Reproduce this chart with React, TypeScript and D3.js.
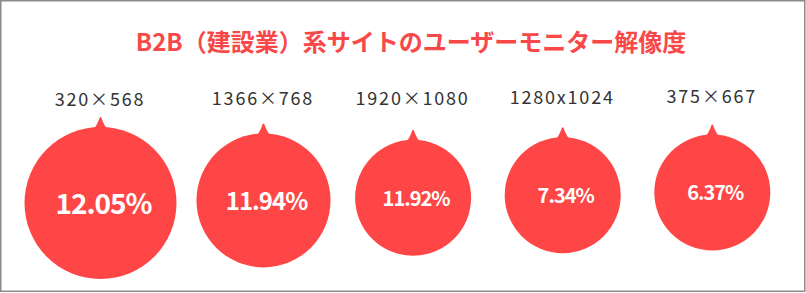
import React, { useEffect, useRef } from "react";
import * as d3 from "d3";

const title = "B2B（建設業）系サイトのユーザーモニター解像度";
const categories = ["320×568", "1366×768", "1920×1080", "1280x1024", "375×667"];
const shares = [12.05, 11.94, 11.92, 7.34, 6.37];

const W = 806;
const H = 293;
const RED = "#ff4646";

export default function App() {
  const ref = useRef<SVGSVGElement | null>(null);

  useEffect(() => {
    document.body.style.margin = "0";
    const svg = d3.select(ref.current);
    svg.selectAll("*").remove();

    svg
      .append("rect")
      .attr("x", 0.75)
      .attr("y", 0.75)
      .attr("width", 804)
      .attr("height", 290.5)
      .attr("fill", "#fff")
      .attr("stroke", "#8a8a8a")
      .attr("stroke-width", 1.5);

    svg
      .append("text")
      .attr("x", 411)
      .attr("y", 51)
      .attr("text-anchor", "middle")
      .attr("font-family", "'Noto Sans CJK JP', sans-serif")
      .attr("font-weight", 700)
      .attr("font-size", 24)
      .attr("fill", "#f84848")
      .text(title);

    const idx = d3.range(categories.length);
    const x = d3.scaleLinear().domain([0, 1, 4]).range([100.5, 263.5, 712.3]);
    const cy = d3.scaleLinear().domain([0, 4]).range([203, 192.5]);
    const labelY = d3.scaleLinear().domain([0, 4]).range([106, 103]);
    const r = d3
      .scaleLinear()
      .domain([11.92, 11.94, 12.05])
      .range([58, 67, 76])
      .clamp(true);
    const fs = d3.scaleLinear().domain([58, 76]).range([20, 28]);

    const g = svg
      .selectAll("g.item")
      .data(idx)
      .enter()
      .append("g")
      .attr("class", "item");

    g.append("text")
      .attr("x", (i) => x(i) - 0.5)
      .attr("y", (i) => labelY(i))
      .attr("text-anchor", "middle")
      .attr("font-family", "'Noto Sans CJK JP', sans-serif")
      .attr("font-size", 18)
      .attr("letter-spacing", 1.8)
      .attr("fill", "#333")
      .text((i) => categories[i]);

    g.append("path")
      .attr("fill", RED)
      .attr("d", (i) => {
        const cx = x(i);
        const top = cy(i) - r(shares[i]);
        const p = d3.path();
        p.moveTo(cx - 9, top + 5);
        p.quadraticCurveTo(cx - 3, top - 2, cx - 0.8, top - 9.5);
        p.quadraticCurveTo(cx, top - 10.5, cx + 0.8, top - 9.5);
        p.quadraticCurveTo(cx + 3, top - 2, cx + 9, top + 5);
        p.closePath();
        return p.toString();
      });

    g.append("circle")
      .attr("cx", (i) => x(i))
      .attr("cy", (i) => cy(i))
      .attr("r", (i) => r(shares[i]))
      .attr("fill", RED);

    g.append("text")
      .attr("x", (i) => x(i) + 3)
      .attr("y", (i) => cy(i) + fs(r(shares[i])) * 0.37 + 0.5)
      .attr("text-anchor", "middle")
      .attr("font-family", "'Noto Sans CJK JP', sans-serif")
      .attr("font-weight", 700)
      .attr("font-size", (i) => fs(r(shares[i])))
      .attr("letter-spacing", -1)
      .attr("fill", "#fff")
      .text((i) => `${shares[i].toFixed(2)}%`);
  }, []);

  return (
    <div style={{ position: "absolute", left: 0, top: 0 }}>
      <svg ref={ref} width={W} height={H} />
    </div>
  );
}
